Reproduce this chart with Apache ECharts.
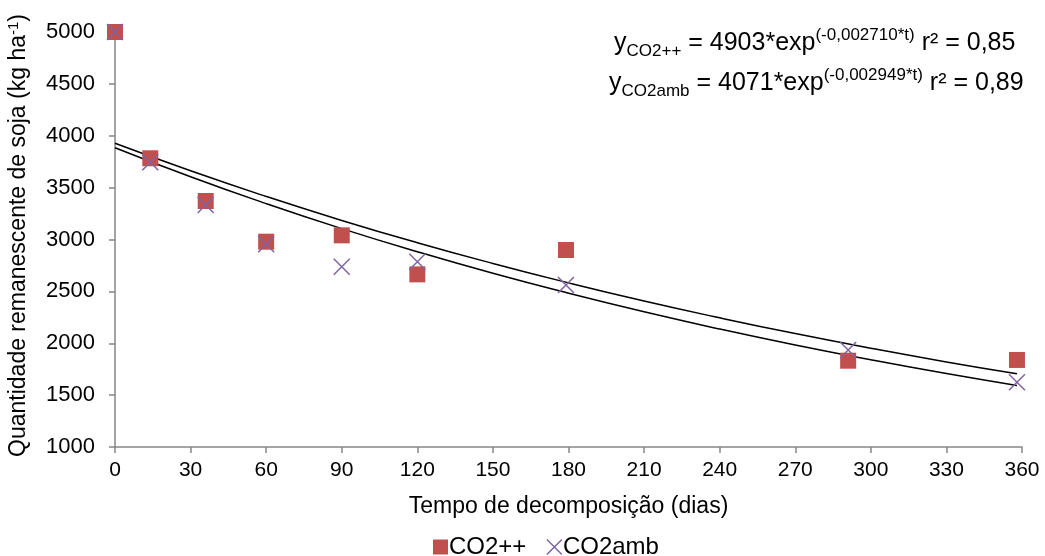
<!DOCTYPE html>
<html>
<head>
<meta charset="utf-8">
<script src="https://cdn.jsdelivr.net/npm/echarts@6/dist/echarts.min.js"></script>
<style>
  html, body { margin: 0; padding: 0; background: #fff; }
  #chart { width: 1045px; height: 556px; }
</style>
</head>
<body>
<div id="chart"></div>
<script>
// dados
var dias = [0, 14, 36, 60, 90, 120, 179, 291, 358];
var co2Mais = [5000, 3783, 3371, 2979, 3040, 2664, 2899, 1832, 1839];
var co2Amb = [5000, 3744, 3333, 2954, 2738, 2786, 2561, 1935, 1624];

// linhas de tendencia
var diasCurva = [0, 30, 60, 90, 120, 150, 180, 210, 240, 270, 300, 330, 358];
var curvaMais = [3927, 3662, 3415, 3184, 2969, 2769, 2582, 2407, 2245, 2093, 1952, 1820, 1706];
var curvaAmb = [3885, 3605, 3346, 3105, 2882, 2674, 2482, 2303, 2137, 1983, 1841, 1708, 1593];

var fonte = 'Liberation Sans, Arial, sans-serif';
var crossPath = 'path://M0,0L10,10M10,0L0,10';

function pares(xs, ys) {
  var res = [];
  for (var i = 0; i < xs.length; i++) res.push([xs[i], ys[i]]);
  return res;
}

var richEq = {
  m: { fontFamily: fonte, fontSize: 25, fill: '#000', lineHeight: 38 },
  sub: { fontFamily: fonte, fontSize: 17, fill: '#000', lineHeight: 38, padding: [16, 0, 0, 0] },
  sup: { fontFamily: fonte, fontSize: 17, fill: '#000', lineHeight: 38, padding: [0, 0, 16, 0] }
};

var chart = echarts.init(document.getElementById('chart'));
var option = {
  animation: false,
  grid: { left: 115, right: 23, top: 32, bottom: 109, outerBoundsMode: 'none', containLabel: false },
  legend: {
    top: 530,
    left: 428,
    itemGap: 18,
    itemWidth: 15,
    itemHeight: 15,
    textStyle: { fontFamily: fonte, fontSize: 24, color: '#000', padding: [0, 0, 0, -4] },
    data: [
      { name: 'CO2++', icon: 'rect', itemStyle: { color: '#C0504D' } },
      { name: 'CO2amb', icon: crossPath, itemStyle: { color: 'none', borderColor: '#8064A2', borderWidth: 1.5 } }
    ]
  },
  xAxis: {
    type: 'value',
    min: 0, max: 360, interval: 30,
    name: 'Tempo de decomposição (dias)',
    nameLocation: 'middle',
    nameGap: 48,
    nameTextStyle: { fontFamily: fonte, fontSize: 23, color: '#000' },
    axisLine: { lineStyle: { color: '#868686', width: 1.5 } },
    axisTick: { show: true, length: 6, lineStyle: { color: '#868686', width: 1.5 } },
    axisLabel: { fontFamily: fonte, fontSize: 21, color: '#000', margin: 13 },
    splitLine: { show: false }
  },
  yAxis: {
    type: 'value',
    min: 1000, max: 5000, interval: 500,
    name: '{a|Quantidade remanescente de soja (kg ha}{s|-1}{a|)}',
    nameLocation: 'middle',
    nameGap: 82,
    nameRotate: 90,
    nameTextStyle: {
      padding: [0, 0, 0, 8],
      rich: {
        a: { fontFamily: fonte, fontSize: 23, color: '#000', lineHeight: 28 },
        s: { fontFamily: fonte, fontSize: 15, color: '#000', lineHeight: 28, padding: [0, 0, 10, 0] }
      }
    },
    axisLine: { show: true, lineStyle: { color: '#868686', width: 1.5 } },
    axisTick: { show: true, length: 6, lineStyle: { color: '#868686', width: 1.5 } },
    axisLabel: {
      fontFamily: fonte, fontSize: 22, color: '#000', margin: 20,
      formatter: function (v) { return String(v); }
    },
    splitLine: { show: false }
  },
  graphic: [
    {
      type: 'text', left: 614, top: 27,
      style: {
        text: '{m|y}{sub|CO2++}{m| = 4903*exp}{sup|(-0,002710*t)}{m| r² = 0,85}',
        rich: richEq
      }
    },
    {
      type: 'text', left: 609, top: 67,
      style: {
        text: '{m|y}{sub|CO2amb}{m| = 4071*exp}{sup|(-0,002949*t)}{m| r² = 0,89}',
        rich: richEq
      }
    }
  ],
  series: [
    {
      name: 'tendencia CO2++', type: 'line', smooth: true, showSymbol: false, symbol: 'none',
      data: pares(diasCurva, curvaMais),
      lineStyle: { color: '#000', width: 1.5 }, z: 1, silent: true
    },
    {
      name: 'tendencia CO2amb', type: 'line', smooth: true, showSymbol: false, symbol: 'none',
      data: pares(diasCurva, curvaAmb),
      lineStyle: { color: '#000', width: 1.5 }, z: 1, silent: true
    },
    {
      name: 'CO2++', type: 'scatter', symbol: 'rect', symbolSize: 16,
      data: pares(dias, co2Mais),
      itemStyle: { color: '#C0504D', opacity: 1 }, z: 2
    },
    {
      name: 'CO2amb', type: 'scatter', symbol: crossPath, symbolSize: 16,
      data: pares(dias, co2Amb),
      itemStyle: { color: 'none', borderColor: '#8064A2', borderWidth: 1.5, opacity: 1 }, z: 3
    }
  ]
};
chart.setOption(option);
</script>
</body>
</html>
